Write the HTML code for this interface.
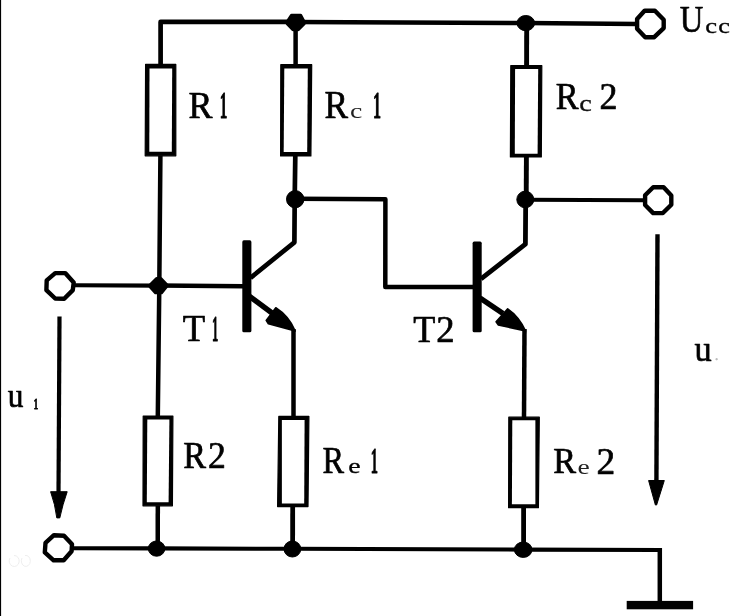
<!DOCTYPE html>
<html>
<head>
<meta charset="utf-8">
<title>Two-stage amplifier circuit</title>
<style>
html,body{margin:0;padding:0;background:#fff;}
body{width:739px;height:616px;overflow:hidden;position:relative;}
svg{position:absolute;left:0;top:0;display:block;}
text{font-family:"Liberation Serif",serif;}
.w{stroke:#000;stroke-width:4.5;fill:none;stroke-linecap:butt;stroke-linejoin:round;}
.r{stroke:#000;stroke-width:4.4;fill:#fff;stroke-linejoin:round;}
.t{stroke:#000;stroke-width:4.4;fill:#fff;stroke-linejoin:round;}
.d{fill:#000;stroke:#000;stroke-width:1;stroke-linejoin:round;}
</style>
</head>
<body>
<svg width="739" height="616" viewBox="0 0 739 616">
<rect x="0" y="0" width="739" height="616" fill="#fff"/>
<rect x="0" y="0" width="1.1" height="616" fill="#000"/>

<path class="w" d="M160.6,64.5 L160.6,21.9 L295.6,21.9" style="stroke-width:4.7"/>
<path class="w" d="M295.6,21.9 L525.8,23 L637,24"/>
<path class="w" d="M160.4,155.5 L159.3,285.6 L157.8,416"/>
<path class="w" d="M157.8,505.5 L157.7,548.5"/>
<path class="w" d="M295.6,22 L295.6,65"/>
<path class="w" d="M295.3,155.5 L294.7,199 L294.4,242.3 L250.5,277.9" style="stroke-width:4.7"/>
<path class="w" d="M295,198.8 L385.4,199.3 L385.3,286.9 L474,287.1"/>
<path class="w" d="M75,285.2 L158.3,285.6" style="stroke-width:4.1"/>
<path class="w" d="M158.3,285.6 L243.5,286.2"/>
<path class="w" d="M249,296 L272,313" style="stroke-width:5.4"/>
<path class="w" d="M293.5,329 L293.5,417"/>
<path class="w" d="M292.7,506 L292.6,549" style="stroke-width:4.8"/>
<path class="w" d="M73,548.2 L156.6,548.4 L292.4,548.8 L523.2,549.6 L662,550" style="stroke-width:4.1"/>
<path class="w" d="M659.8,548 L659.8,602"/>
<path class="w" d="M526.7,23 L526.6,66" style="stroke-width:4.9"/>
<path class="w" d="M526.4,156.5 L526.2,199.6" style="stroke-width:4.9"/>
<path class="w" d="M525.7,199.6 L525.4,244.2 L481,278.8" style="stroke-width:4.8"/>
<path class="w" d="M525.3,199.7 L644,200.2" style="stroke-width:4.0"/>
<path class="w" d="M480,298 L503,313.4" style="stroke-width:5.4"/>
<path class="w" d="M524.5,329 L524,418"/>
<path class="w" d="M523.6,507 L523.6,550" style="stroke-width:4.8"/>
<rect x="242.3" y="240.3" width="9.1" height="92" rx="1.6" fill="#000"/>
<rect x="472.6" y="241.6" width="9.1" height="90.7" rx="1.6" fill="#000"/>
<path class="d" style="stroke-width:1.6" d="M275.8,307.8 Q288.8,316 295.2,331 L268.4,323.8 L266.2,320.4 Z"/>
<path class="d" style="stroke-width:1.6" d="M507.7,308.9 Q518.8,316.4 525.6,331 L498.2,324.9 L496.1,321.8 Z"/>
<polygon points="145.60,64.40 175.80,64.40 175.80,155.80 145.20,155.80" fill="#000" stroke="#000" stroke-width="1.2" stroke-linejoin="round"/>
<polygon points="149.50,68.50 172.20,68.50 171.80,151.75 149.30,151.75" fill="#fff"/>
<polygon points="280.80,64.70 311.70,64.70 310.90,156.00 280.60,156.00" fill="#000" stroke="#000" stroke-width="1.2" stroke-linejoin="round"/>
<polygon points="284.30,68.50 307.80,68.50 307.20,152.10 283.70,152.10" fill="#fff"/>
<polygon points="510.80,65.50 541.80,65.50 541.30,157.00 510.40,157.00" fill="#000" stroke="#000" stroke-width="1.2" stroke-linejoin="round"/>
<polygon points="515.10,68.90 538.20,68.90 537.60,153.70 514.80,153.70" fill="#fff"/>
<polygon points="143.20,416.00 172.90,416.00 172.40,505.80 143.00,505.80" fill="#000" stroke="#000" stroke-width="1.2" stroke-linejoin="round"/>
<polygon points="147.30,419.50 169.40,419.50 168.60,502.30 146.80,502.30" fill="#fff"/>
<polygon points="278.80,416.40 308.90,416.40 308.00,506.60 277.60,506.60" fill="#000" stroke="#000" stroke-width="1.2" stroke-linejoin="round"/>
<polygon points="281.90,419.90 304.60,419.90 304.20,503.50 281.90,503.50" fill="#fff"/>
<polygon points="508.80,417.20 539.30,417.20 538.40,507.65 508.60,507.65" fill="#000" stroke="#000" stroke-width="1.2" stroke-linejoin="round"/>
<polygon points="512.30,420.30 535.40,420.30 535.40,504.35 511.90,504.35" fill="#fff"/>
<polygon class="d" style="stroke-width:3.2" points="287.2,21.9 291.5,15.3 300.6,15.3 304.2,21.9 304.2,23.6 298.2,29.7 293.0,29.7 287.2,23.6"/>
<ellipse class="d" cx="525.8" cy="23.1" rx="8.8" ry="7.6"/>
<ellipse class="d" cx="295.2" cy="199.2" rx="8.7" ry="8.6"/>
<ellipse class="d" cx="525.3" cy="199.5" rx="8.5" ry="8.3"/>
<polygon class="d" style="stroke-width:3.2" points="150.1,285.1 156.6,278.5 160.8,278.5 166.5,284.6 166.5,286.6 161.5,292.7 155.5,292.7 150.1,286.6"/>
<ellipse class="d" cx="156.6" cy="548.6" rx="8.3" ry="7.6"/>
<ellipse class="d" cx="292.4" cy="549" rx="8.4" ry="8.0"/>
<ellipse class="d" cx="523.2" cy="549.7" rx="8.8" ry="7.699999999999999"/>
<polygon class="t" points="55.2,273.1 65.2,273.1 73.7,282.4 72.8,290.1 64.2,298.8 55.2,298.5 46.4,290.1 46.7,280.4"/>
<polygon class="t" points="53.9,535.2 64.0,535.7 72.0,544.3 71.6,551.2 63.7,560.3 53.6,560.3 44.8,552.3 45.5,542.9"/>
<polygon class="t" points="644.8,10.6 654.9,10.7 663.7,19.8 663.7,28.1 654.2,37.2 645.2,37.3 637.1,28.8 637.1,19.1"/>
<polygon class="t" points="653.2,187.2 663.6,187.2 671.3,195.6 671.3,204.7 662.9,213.0 653.2,213.1 645.1,205.0 645.1,195.3"/>
<path d="M10,558 A5,5.5 0 1 0 14,555.5 M22,558 A4.5,5.5 0 1 0 25,555.5" fill="none" stroke="#ececec" stroke-width="0.9"/>
<rect x="626.7" y="600.9" width="66.4" height="8.4" fill="#000"/>
<path class="w" d="M59.5,316.5 L58.5,494" style="stroke-width:4.2"/>
<path class="d" d="M50.6,491.7 L67.2,491.7 Q62.6,504.6 59.8,517.9 L56.8,517.9 Q55.2,504.4 50.6,491.7 Z"/>
<path class="w" d="M657.5,234.3 L656.4,483" style="stroke-width:4.4"/>
<polygon class="d" points="648.6,480.5 664.3,480.5 656.6,505 655.4,505"/>
<g opacity="0.999">
<text transform="translate(188.61,117.65) scale(0.931,1)" font-size="38.64" fill="#000" stroke="#000" stroke-width="0.7" stroke-linejoin="round">R</text>
<text transform="translate(219.83,117.55) scale(0.400,1)" font-size="38.02" fill="#000" font-weight="bold" stroke="#000" stroke-width="0.9" stroke-linejoin="round">1</text>
<text transform="translate(324.53,118.45) scale(0.890,1)" font-size="39.71" fill="#000" stroke="#000" stroke-width="0.7" stroke-linejoin="round">R</text>
<text transform="translate(350.04,117.69) scale(1.283,1)" font-size="21.62" fill="#222">c</text>
<text transform="translate(372.97,118.35) scale(0.421,1)" font-size="38.02" fill="#000" font-weight="bold" stroke="#000" stroke-width="0.9" stroke-linejoin="round">1</text>
<text transform="translate(555.76,109.25) scale(0.900,1)" font-size="38.03" fill="#000" stroke="#000" stroke-width="0.7" stroke-linejoin="round">R</text>
<text transform="translate(579.37,110.83) scale(1.283,1)" font-size="22.04" fill="#111" stroke="#111" stroke-width="0.3" stroke-linejoin="round">c</text>
<text transform="translate(599.47,109.25) scale(0.944,1)" font-size="38.06" fill="#000" stroke="#000" stroke-width="0.7" stroke-linejoin="round">2</text>
<text transform="translate(679.86,31.97) scale(0.841,1)" font-size="38.82" fill="#000" stroke="#000" stroke-width="0.7" stroke-linejoin="round">U</text>
<text transform="translate(705.26,33.22) scale(1.270,1)" font-size="20.90" fill="#000" stroke="#000" stroke-width="0.35" stroke-linejoin="round">c</text>
<text transform="translate(718.37,33.22) scale(1.257,1)" font-size="20.90" fill="#000" stroke="#000" stroke-width="0.35" stroke-linejoin="round">c</text>
<text transform="translate(182.79,341.15) scale(0.952,1)" font-size="38.49" fill="#000" stroke="#000" stroke-width="0.7" stroke-linejoin="round">T</text>
<text transform="translate(211.95,341.05) scale(0.341,1)" font-size="36.66" fill="#000" font-weight="bold" stroke="#000" stroke-width="0.9" stroke-linejoin="round">1</text>
<text transform="translate(413.20,341.55) scale(0.977,1)" font-size="36.96" fill="#000" stroke="#000" stroke-width="0.7" stroke-linejoin="round">T</text>
<text transform="translate(436.24,342.35) scale(0.963,1)" font-size="38.06" fill="#000" stroke="#000" stroke-width="0.7" stroke-linejoin="round">2</text>
<text transform="translate(183.17,468.15) scale(0.917,1)" font-size="37.26" fill="#000" stroke="#000" stroke-width="0.7" stroke-linejoin="round">R</text>
<text transform="translate(207.88,468.15) scale(0.937,1)" font-size="38.06" fill="#000" stroke="#000" stroke-width="0.7" stroke-linejoin="round">2</text>
<text transform="translate(322.52,473.05) scale(0.868,1)" font-size="37.26" fill="#000" stroke="#000" stroke-width="0.7" stroke-linejoin="round">R</text>
<text transform="translate(348.26,473.25) scale(1.352,1)" font-size="20.58" fill="#000" stroke="#000" stroke-width="0.3" stroke-linejoin="round">e</text>
<text transform="translate(370.70,472.95) scale(0.404,1)" font-size="35.60" fill="#000" font-weight="bold" stroke="#000" stroke-width="0.9" stroke-linejoin="round">1</text>
<text transform="translate(553.26,473.25) scale(0.938,1)" font-size="36.50" fill="#000" stroke="#000" stroke-width="0.7" stroke-linejoin="round">R</text>
<text transform="translate(577.42,474.10) scale(1.339,1)" font-size="20.58" fill="#222">e</text>
<text transform="translate(596.41,473.65) scale(0.991,1)" font-size="37.76" fill="#000" stroke="#000" stroke-width="0.7" stroke-linejoin="round">2</text>
<text transform="translate(7.64,406.92) scale(0.917,1)" font-size="34.13" fill="#000" stroke="#000" stroke-width="0.7" stroke-linejoin="round">u</text>
<text transform="translate(33.85,408.65) scale(0.592,1)" font-size="14.69" fill="#000" font-weight="bold" stroke="#000" stroke-width="0.9" stroke-linejoin="round">1</text>
<text transform="translate(694.50,360.71) scale(0.980,1)" font-size="34.99" fill="#000" stroke="#000" stroke-width="0.7" stroke-linejoin="round">u</text>
<text transform="translate(714.91,360.26) scale(0.938,1)" font-size="13.54" fill="#bbb" stroke="#bbb" stroke-width="0.7" stroke-linejoin="round">.</text>
</g>
</svg>
</body>
</html>
